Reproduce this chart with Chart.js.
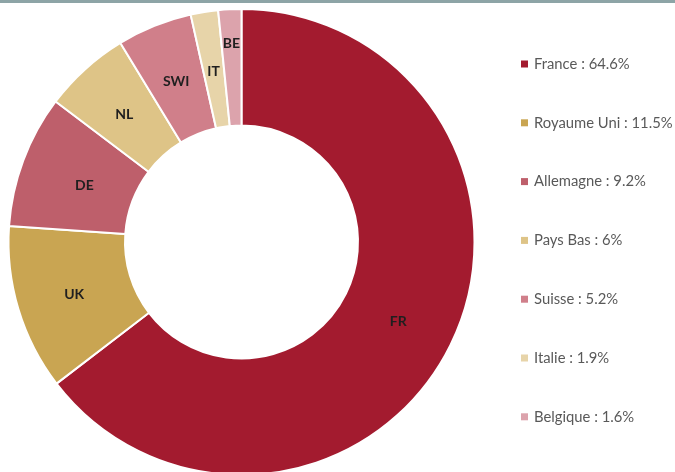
<!DOCTYPE html>
<html>
<head>
<meta charset="utf-8">
<script src="https://cdn.jsdelivr.net/npm/chart.js@4/dist/chart.umd.min.js"></script>
<style>
  html, body { margin: 0; padding: 0; width: 675px; height: 472px; overflow: hidden; background: #fff; }
  #band { position: absolute; left: 0; top: 0; width: 675px; height: 3px; background: #8DA4A6; z-index: 2; }
  #wrap { position: absolute; left: 0; top: 0; width: 675px; height: 490px; }
</style>
</head>
<body>
<div id="band"></div>
<div id="wrap"><canvas id="chartPays"></canvas></div>
<script>
/* ── répartition par pays ── */
const CODES   = ['FR', 'UK', 'DE', 'NL', 'SWI', 'IT', 'BE'];
const PAYS    = ['France', 'Royaume Uni', 'Allemagne', 'Pays Bas', 'Suisse', 'Italie', 'Belgique'];
const PARTS   = [64.6, 11.5, 9.2, 6, 5.2, 1.9, 1.6];
const COULEURS = ['#A31B2F', '#C9A552', '#BE5F6B', '#DEC487', '#D07F8A', '#E7D4A9', '#DCA3AC'];
// BE est poussé vers le bord extérieur, le reste au milieu de l'anneau
const LABEL_POS = [0.5, 0.5, 0.44, 0.5, 0.5, 0.5, 0.72];

const sliceLabels = {
  id: 'sliceLabels',
  afterDatasetsDraw(chart) {
    const ctx = chart.ctx;
    const meta = chart.getDatasetMeta(0);
    ctx.save();
    ctx.font = 'bold 14px Lato, "Open Sans", sans-serif';
    ctx.fillStyle = '#1F1F1F';
    ctx.textAlign = 'center';
    ctx.textBaseline = 'middle';
    meta.data.forEach((arc, i) => {
      const a = (arc.startAngle + arc.endAngle) / 2;
      const r = arc.innerRadius + (arc.outerRadius - arc.innerRadius) * LABEL_POS[i];
      ctx.fillText(CODES[i], arc.x + Math.cos(a) * r, arc.y + Math.sin(a) * r + 2);
    });
    ctx.restore();
  }
};

// légende à droite, espacée comme dans l'original
const sideLegend = {
  id: 'sideLegend',
  afterDraw(chart) {
    const ctx = chart.ctx;
    ctx.save();
    ctx.font = '14.8px Lato, "Open Sans", sans-serif';
    ctx.textBaseline = 'middle';
    PAYS.forEach((p, i) => {
      const y = 64 + i * 58.8;
      ctx.fillStyle = COULEURS[i];
      ctx.fillRect(521, y - 3.5, 7, 7);
      ctx.fillStyle = '#595959';
      ctx.fillText(`${p} : ${PARTS[i]}%`, 534, y);
    });
    ctx.restore();
  }
};

new Chart(document.getElementById('chartPays'), {
  type: 'doughnut',
  data: {
    labels: PAYS,
    datasets: [{ data: PARTS, backgroundColor: COULEURS, borderColor: '#fff', borderWidth: 2 }]
  },
  options: {
    responsive: true,
    maintainAspectRatio: false,
    animation: false,
    cutout: '50%',
    layout: { padding: { left: 7, top: 8, right: 199, bottom: 14 } },
    plugins: { legend: { display: false }, tooltip: { enabled: false } }
  },
  plugins: [sliceLabels, sideLegend]
});
</script>
</body>
</html>
